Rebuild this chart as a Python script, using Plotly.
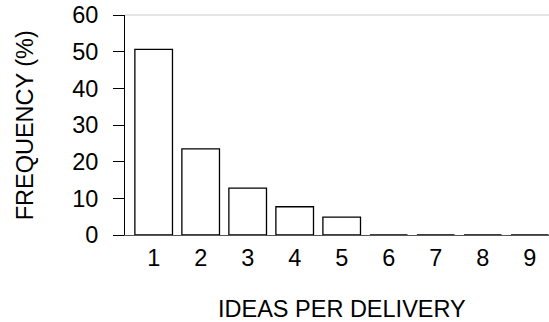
import plotly.graph_objects as go

ideas = [1, 2, 3, 4, 5, 6, 7, 8, 9]
frequency = [50.6, 23.5, 12.8, 7.7, 4.9, 0, 0, 0, 0]
y_ticks = [0, 10, 20, 30, 40, 50, 60]

FONT = "Liberation Sans, Arial, sans-serif"
SIZE = 23.5

fig = go.Figure(
    go.Bar(
        x=ideas,
        y=frequency,
        width=0.8,
        marker=dict(color="white", line=dict(color="black", width=1.3)),
    )
)

fig.update_layout(
    width=549,
    height=322,
    margin=dict(l=125, r=0, t=15, b=87),
    paper_bgcolor="white",
    plot_bgcolor="white",
    showlegend=False,
    font=dict(family=FONT, size=SIZE, color="black"),
)

fig.update_xaxes(
    range=[0.39, 9.41],
    tickvals=ideas,
    ticktext=[str(v) for v in ideas],
    ticks="",
    showgrid=False,
    zeroline=False,
    showline=True,
    linecolor="#555555",
    linewidth=1,
    ticklabelstandoff=2,
    tickfont=dict(size=SIZE),
)

fig.update_yaxes(
    range=[0, 60],
    tickvals=y_ticks,
    ticks="outside",
    ticklen=11,
    tickcolor="black",
    tickwidth=1,
    showgrid=False,
    zeroline=False,
    showline=True,
    linecolor="black",
    linewidth=1,
    ticklabelstandoff=10,
    tickfont=dict(size=SIZE),
)

# light frame line along the top of the plot area
fig.add_shape(
    type="line", xref="paper", yref="paper",
    x0=0, x1=1, y0=1, y1=1,
    line=dict(color="#cccccc", width=1),
)

fig.add_annotation(
    text="IDEAS PER DELIVERY",
    x=5, xref="x", y=-0.335, yref="paper",
    xanchor="center", yanchor="middle",
    showarrow=False, font=dict(size=SIZE),
)

fig.add_annotation(
    text="FREQUENCY (%)",
    x=-0.235, xref="paper", y=0.5, yref="paper",
    xanchor="center", yanchor="middle", textangle=-90,
    showarrow=False, font=dict(size=SIZE),
)

fig.write_html("out.html")
